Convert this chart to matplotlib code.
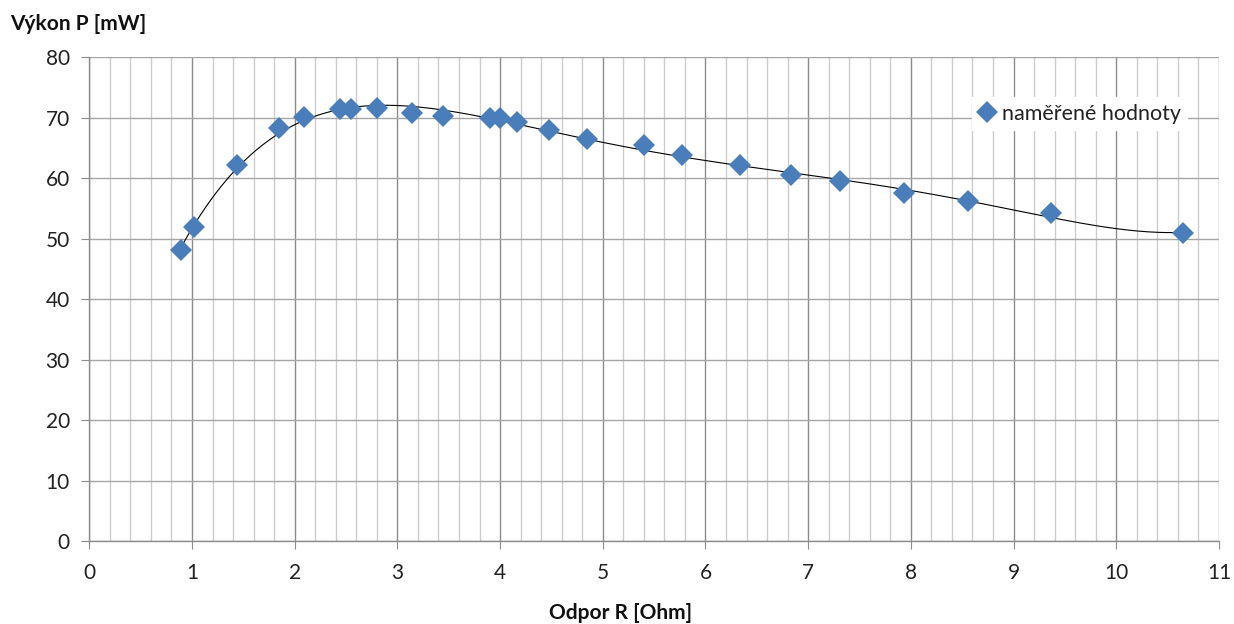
import numpy as np
import matplotlib
matplotlib.use("Agg")
import matplotlib.pyplot as plt
from matplotlib.ticker import MultipleLocator

plt.rcParams['font.family'] = ['Lato', 'DejaVu Sans']

# measured values
odpor_r = [0.89, 1.02, 1.44, 1.85, 2.09, 2.44, 2.55, 2.80, 3.14, 3.44,
           3.90, 4.00, 4.16, 4.48, 4.85, 5.40, 5.77, 6.34, 6.83, 7.31,
           7.93, 8.56, 9.36, 10.65]
vykon_p = [48.1, 52.0, 62.2, 68.4, 70.2, 71.4, 71.4, 71.7, 70.8, 70.3,
           70.0, 70.0, 69.3, 68.0, 66.5, 65.5, 63.8, 62.2, 60.5, 59.6,
           57.5, 56.3, 54.2, 50.9]
legend_label = "naměřené hodnoty"
trend_order = 5

x = np.array(odpor_r)
y = np.array(vykon_p)

fig = plt.figure(figsize=(12.34, 6.24), dpi=100)
ax = fig.add_axes([0.0724, 0.133, 0.9154, 0.7749])

# polynomial trendline (like Excel)
coef = np.polyfit(x, y, trend_order)
xs = np.linspace(x.min(), x.max(), 400)
ax.plot(xs, np.polyval(coef, xs), color='black', lw=0.8, zorder=3)

ax.plot(x, y, linestyle='none', marker='D', markersize=11,
        color='#4a7ebb', markeredgewidth=0, label=legend_label, zorder=4)

ax.set_xlim(0, 11)
ax.set_ylim(0, 80)
ax.xaxis.set_major_locator(MultipleLocator(1))
ax.xaxis.set_minor_locator(MultipleLocator(0.2))
ax.yaxis.set_major_locator(MultipleLocator(10))

ax.grid(which='major', axis='x', color='#8c8c8c', lw=1.0)
ax.grid(which='minor', axis='x', color='#cccccc', lw=1.0)
ax.grid(which='major', axis='y', color='#a6a6a6', lw=1.0)
ax.set_axisbelow(True)

for s in ['top', 'right']:
    ax.spines[s].set_visible(False)
for s in ['left', 'bottom']:
    ax.spines[s].set_color('#8c8c8c')
    ax.spines[s].set_linewidth(1.0)

ax.tick_params(axis='both', which='major', direction='out', length=6,
               color='#8c8c8c', labelsize=15, labelcolor='#222222')
ax.tick_params(axis='x', which='minor', length=0)
ax.tick_params(axis='x', pad=10)
ax.tick_params(axis='y', pad=8)

fig.text(0.008, 0.962, "Výkon P [mW]", fontsize=15, fontweight='bold',
         ha='left', va='center', color='#111111')
fig.text(0.503, 0.017, "Odpor R [Ohm]", fontsize=15, fontweight='bold',
         ha='center', va='center', color='#111111')

leg = ax.legend(loc='upper right', bbox_to_anchor=(0.972, 0.918),
                frameon=True, fancybox=False, fontsize=15.5,
                handlelength=0.8, handletextpad=0.3, borderpad=0.3,
                borderaxespad=0)
leg.get_frame().set_edgecolor('white')
leg.get_frame().set_facecolor('white')
leg.get_frame().set_alpha(1)
for t in leg.get_texts():
    t.set_color('#222222')

fig.savefig("out.png", dpi=100)
